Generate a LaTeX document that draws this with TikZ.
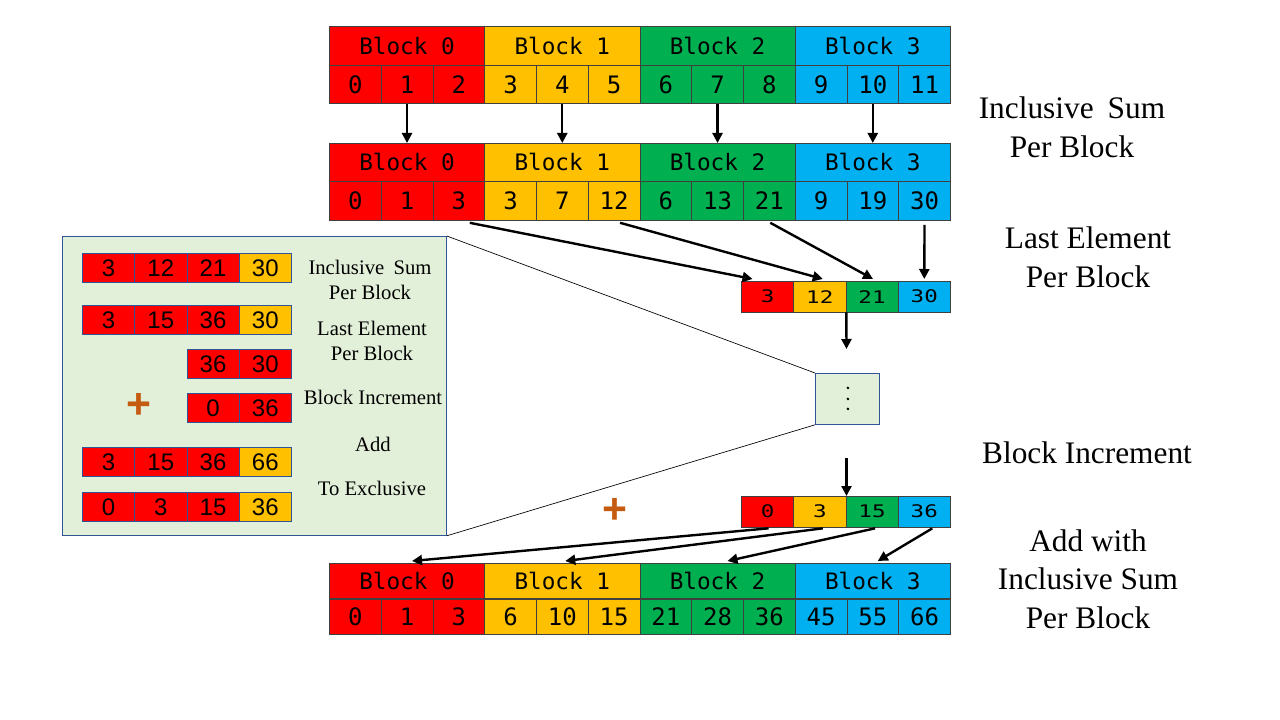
\documentclass[tikz,border=0pt]{standalone}
\usepackage{fontspec}
\setmainfont{Liberation Serif}
\newfontfamily\monof{DejaVu Sans Mono}
\newfontfamily\monowide[FakeStretch=1.3]{DejaVu Sans Mono}
\newfontfamily\arialf{Liberation Sans}
\usetikzlibrary{arrows.meta,calc}
\definecolor{myred}{HTML}{FF0000}
\definecolor{myyel}{HTML}{FFC000}
\definecolor{mygrn}{HTML}{00B050}
\definecolor{myblu}{HTML}{00B0F0}
\definecolor{panelfill}{HTML}{E2F0D9}
\definecolor{panelline}{HTML}{2F5597}
\definecolor{plusc}{HTML}{C55A11}
\colorlet{blk0}{myred}
\colorlet{blk1}{myyel}
\colorlet{blk2}{mygrn}
\colorlet{blk3}{myblu}
\begin{document}
\begin{tikzpicture}[x=0.75pt,y=-0.75pt,
  cell/.style={draw=black!75, line width=0.6pt, inner sep=0pt, anchor=north west, text=black},
  hdr/.style={cell, minimum width=116.4375pt, font=\monof\fontsize{17}{17}\selectfont},
  num/.style={cell, minimum width=38.8125pt, font=\monof\fontsize{18}{18}\selectfont},
  small/.style={cell, minimum width=39.1875pt, minimum height=22.9pt, font=\monowide\fontsize{13}{13}\selectfont},
  icell/.style={draw=panelline, line width=0.6pt, inner sep=0pt, anchor=north west, minimum width=39.1875pt, minimum height=21.75pt, font=\arialf\fontsize{18}{18}\selectfont},
  arr/.style={-{Triangle[length=7.5pt,width=7.5pt]}, line width=1.8pt, black},
  biglabel/.style={align=center, font=\fontsize{23.5}{29}\selectfont},
  inlabel/.style={align=center, font=\fontsize{15.5}{18.75}\selectfont},
  plussign/.style={text=plusc, font=\arialf\bfseries\fontsize{32}{32}\selectfont, inner sep=0pt},
  zoomline/.style={line width=0.5pt, black}
]
\useasboundingbox (0,0) rectangle (1280,720);

% ---------- array A (input) ----------
\foreach \k in {0,1,2,3}{
  \node[hdr, fill=blk\k, minimum height=29.25pt] (ah\k) at ({329+155.25*\k},26) {Block \k};
}
\foreach \v [count=\i from 0] in {0,1,2,3,4,5,6,7,8,9,10,11}{
  \pgfmathtruncatemacro\k{int(\i/3)}
  \node[num, fill=blk\k, minimum height=28.875pt] (a\i) at ({329+51.75*\i},65) {\v};
}

% ---------- array B (inclusive sum per block) ----------
\foreach \k in {0,1,2,3}{
  \node[hdr, fill=blk\k, minimum height=28.5pt] (bh\k) at ({329+155.25*\k},143) {Block \k};
}
\foreach \v [count=\i from 0] in {0,1,3,3,7,12,6,13,21,9,19,30}{
  \pgfmathtruncatemacro\k{int(\i/3)}
  \node[num, fill=blk\k, minimum height=29.25pt] (b\i) at ({329+51.75*\i},181) {\v};
}

% ---------- array C (result) ----------
\foreach \k in {0,1,2,3}{
  \node[hdr, fill=blk\k, minimum height=26.6pt] (ch\k) at ({329+155.25*\k},563) {Block \k};
}
\foreach \v [count=\i from 0] in {0,1,3,6,10,15,21,28,36,45,55,66}{
  \pgfmathtruncatemacro\k{int(\i/3)}
  \node[num, fill=blk\k, minimum height=26.6pt] (c\i) at ({329+51.75*\i},598.5) {\v};
}

% ---------- small arrays ----------
\foreach \v [count=\i from 0] in {3,12,21,30}{
  \node[small, fill=blk\i] (s\i) at ({741+52.25*\i},281) {\v};
}
\foreach \v [count=\i from 0] in {0,3,15,36}{
  \node[small, fill=blk\i] (t\i) at ({741+52.25*\i},496) {\v};
}

% ---------- dots box ----------
\node[draw=panelline, fill=panelfill, line width=0.6pt, anchor=north west, minimum width=48pt, minimum height=38.25pt, inner sep=0pt] (D) at (815,373) {};
\foreach \dy in {-11,0,10}{
  \fill[black] ($(D.center)+(0.5,\dy)$) circle[radius=1.1pt];
}

% ---------- inset panel ----------
\node[draw=panelline, fill=panelfill, line width=0.6pt, anchor=north west, minimum width=288pt, minimum height=224.25pt, inner sep=0pt] (P) at (62,236) {};

\foreach \v/\c [count=\i from 0] in {3/myred,12/myred,21/myred,30/myyel}{
  \node[icell, fill=\c] (r1c\i) at ({82+52.25*\i},253) {\v};
}
\foreach \v/\c [count=\i from 0] in {3/myred,15/myred,36/myred,30/myyel}{
  \node[icell, fill=\c] (r2c\i) at ({82+52.25*\i},305) {\v};
}
\foreach \v/\c [count=\i from 2] in {36/myred,30/myred}{
  \node[icell, fill=\c] (r3c\i) at ({82+52.25*\i},349) {\v};
}
\foreach \v/\c [count=\i from 2] in {0/myred,36/myred}{
  \node[icell, fill=\c] (r4c\i) at ({82+52.25*\i},393) {\v};
}
\foreach \v/\c [count=\i from 0] in {3/myred,15/myred,36/myred,66/myyel}{
  \node[icell, fill=\c] (r5c\i) at ({82+52.25*\i},447) {\v};
}
\foreach \v/\c [count=\i from 0] in {0/myred,3/myred,15/myred,36/myyel}{
  \node[icell, fill=\c] (r6c\i) at ({82+52.25*\i},492) {\v};
}
\node[plussign] (iplus) at (139,406) {+};

\node[inlabel] (il1) at (370,279.5) {Inclusive\hspace{0.45em}Sum\\Per Block};
\node[inlabel] (il2) at (372,340.5) {Last Element\\Per Block};
\node[inlabel] (il3) at (373,397) {Block Increment};
\node[inlabel] (il4) at (373,444) {Add};
\node[inlabel] (il5) at (372,488) {To Exclusive};

% zoom lines
\draw[zoomline] (P.north east) -- (D.north west);
\draw[zoomline] (P.south east) -- (D.south west);

% big plus
\node[plussign] (bplus) at (615,511) {+};

% ---------- right labels ----------
\node[biglabel] (L1) at (1072,127.5) {Inclusive\hspace{0.45em}Sum\\Per Block};
\node[biglabel] (L2) at (1088,257) {Last Element\\Per Block};
\node[biglabel] (L3) at (1087,453) {Block Increment};
\node[biglabel] (L4) at (1088,579) {Add with\\Inclusive Sum\\Per Block};

% ---------- arrows ----------
\foreach \i/\k in {1/0,4/1,7/2,10/3}{
  \draw[arr] (a\i.south) -- (a\i.south |- bh\k.north);
}
\draw[arr] ($(b2.south)+(11,2)$) -- ($(s0.north)+(-15,-2)$);
\draw[arr] ($(b5.south)+(6,2)$) -- ($(s1.north)+(3,-2)$);
\draw[arr] ($(b8.south)+(1,2)$) -- ($(s2.north)+(1,-2)$);
\draw[arr] ($(b11.south)+(0,4)$) -- ($(s3.north)+(0,-2)$);

\coordinate (e1) at (846.5,349);
\draw[arr] (s1.south east) -- (e1);
\coordinate (e2) at (846.5,458);
\draw[arr] (e2) -- (e2 |- t0.north);

\draw[arr] ($(t0.south)+(1,1)$) -- ($(ch0.north)+(5,-2)$);
\draw[arr] ($(t1.south)+(3,1)$) -- ($(ch1.north)+(3,-2)$);
\draw[arr] ($(t2.south)+(3,1)$) -- ($(ch2.north)+(10,-2)$);
\draw[arr] ($(t3.south)+(8,1)$) -- ($(ch3.north)+(5,-2)$);
\end{tikzpicture}
\end{document}
